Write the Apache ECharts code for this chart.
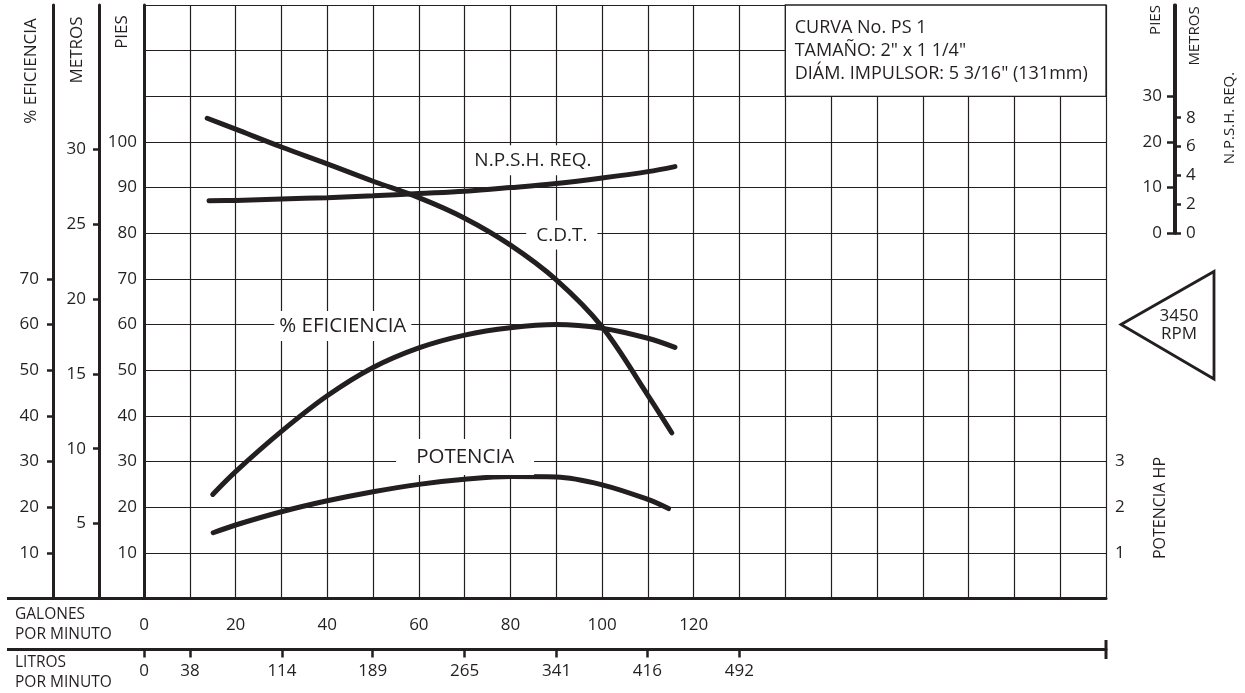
<!DOCTYPE html>
<html>
<head>
<meta charset="utf-8">
<script src="https://cdn.jsdelivr.net/npm/echarts@6/dist/echarts.min.js"></script>
<style>
html,body{margin:0;padding:0;background:#fff;}
#chart{width:1245px;height:693px;}
</style>
</head>
<body>
<div id="chart"></div>
<script>
// ---- Tick labels ----
const gpmTicks = [0, 20, 40, 60, 80, 100, 120];
const litrosTicks = [0, 38, 114, 189, 265, 341, 416, 492];
const piesTicks = [10, 20, 30, 40, 50, 60, 70, 80, 90, 100];
const eficTicks = [10, 20, 30, 40, 50, 60, 70];
const metrosTicks = [5, 10, 15, 20, 25, 30];
const hpTicks = [1, 2, 3];
const npshPiesTicks = [0, 10, 20, 30];
const npshMetrosTicks = [0, 2, 4, 6, 8];

// ---- Curves (x in gallons per minute) ----
const cdtGpm  = [13.8, 20, 30, 40, 50, 60, 70, 80, 90, 100, 110, 115.2];
const cdtPies = [105.2, 102.8, 98.9, 95.2, 91.4, 87.8, 83.3, 77.4, 69.8, 59.5, 44.5, 36.3];

const npshGpm  = [14.2, 20, 30, 40, 50, 60, 70, 80, 90, 100, 110, 115.9];
const npshPies = [7.1, 7.2, 7.5, 7.8, 8.2, 8.7, 9.2, 10.0, 10.9, 12.1, 13.5, 14.6];

const efGpm = [15, 20, 30, 40, 50, 60, 70, 80, 90, 100, 110, 115.9];
const efPct = [22.8, 27.8, 36.6, 44.4, 50.6, 54.9, 57.7, 59.3, 60.0, 59.2, 57.0, 55.0];

const hpGpm = [15.1, 20, 30, 40, 50, 60, 70, 80, 90, 100, 110, 114.5];
const hpVal = [1.44, 1.61, 1.90, 2.14, 2.34, 2.50, 2.61, 2.67, 2.66, 2.49, 2.17, 1.97];

const infoLines = ['CURVA No. PS 1', 'TAMAÑO: 2" x 1 1/4"', 'DIÁM. IMPULSOR: 5 3/16" (131mm)'];

const INK = '#231f20';
const FONT = '"Open Sans", "Noto Sans", sans-serif';
const FT_PER_M = 3.28084;
const L_PER_GAL = 3.78541;

function pairs(xs, ys) { return xs.map((x, i) => [x, ys[i]]); }

const lineStyle = { color: INK, width: 5, cap: 'round' };
function curveLabel(text, coord, pad, size) {
  return {
    symbol: 'circle', symbolSize: 1, silent: true,
    itemStyle: { color: 'transparent' },
    data: [{ coord: coord, value: text }],
    label: {
      show: true, position: 'inside', formatter: text,
      color: INK, fontFamily: FONT, fontSize: size,
      backgroundColor: '#fff', padding: pad
    }
  };
}

const axisText = { color: INK, fontFamily: FONT, fontSize: 17 };
const thick = { show: true, onZero: false, lineStyle: { color: INK, width: 3 } };
const SMOOTH = 0.35;

const chart = echarts.init(document.getElementById('chart'), null, { renderer: 'canvas' });
chart.setOption({
  animation: false,
  backgroundColor: '#fff',
  textStyle: { fontFamily: FONT, color: INK },
  grid: [
    { left: 144, top: 5, width: 962, height: 593.5, outerBoundsMode: 'none', containLabel: false },
    { left: 1174, top: 5, width: 1, height: 228.3, outerBoundsMode: 'none', containLabel: false }
  ],
  xAxis: [
    { type: 'value', gridIndex: 0, min: 0, max: 210, interval: 10, position: 'bottom',
      axisLine: thick, axisTick: { show: false },
      splitLine: { show: true, lineStyle: { color: INK, width: 1.2 } },
      axisLabel: Object.assign({ customValues: gpmTicks, margin: 18 }, axisText) },
    { type: 'value', gridIndex: 0, min: 0, max: 210 * L_PER_GAL, position: 'bottom', offset: 51,
      axisLine: thick,
      axisTick: { show: true, inside: false, length: 8, customValues: litrosTicks, lineStyle: { color: INK, width: 2.5 } },
      splitLine: { show: false },
      axisLabel: Object.assign({ customValues: litrosTicks, margin: 13 }, axisText) },
    { type: 'value', gridIndex: 1, min: 0, max: 1, show: false }
  ],
  yAxis: [
    // 0: PIES (main head scale)
    { type: 'value', gridIndex: 0, min: 0, max: 130, interval: 10, position: 'left', offset: 0,
      axisLine: thick, axisTick: { show: false },
      splitLine: { show: true, lineStyle: { color: INK, width: 1.2 } },
      axisLabel: Object.assign({ customValues: piesTicks, margin: 7 }, axisText) },
    // 1: % EFICIENCIA
    { type: 'value', gridIndex: 0, min: 0, max: 130, position: 'left', offset: 91,
      axisLine: thick, splitLine: { show: false },
      axisTick: { show: true, length: 6, customValues: eficTicks, lineStyle: { color: INK, width: 2.5 } },
      axisLabel: Object.assign({ customValues: eficTicks, margin: 14 }, axisText) },
    // 2: METROS
    { type: 'value', gridIndex: 0, min: 0, max: 130 / FT_PER_M, position: 'left', offset: 45,
      axisLine: thick, splitLine: { show: false },
      axisTick: { show: true, length: 6, customValues: metrosTicks, lineStyle: { color: INK, width: 2.5 } },
      axisLabel: Object.assign({ customValues: metrosTicks, margin: 13 }, axisText) },
    // 3: POTENCIA HP
    { type: 'value', gridIndex: 0, min: 0, max: 13, position: 'right', offset: 0,
      axisLine: { show: false, onZero: false }, axisTick: { show: false }, splitLine: { show: false },
      axisLabel: Object.assign({ customValues: hpTicks, margin: 9 }, axisText) },
    // 4: NPSH (hidden, shares main grid; NPSH 0 ft sits at 80 ft of main scale)
    { type: 'value', gridIndex: 0, min: -80, max: 50, show: false },
    // 5: NPSH PIES scale
    { type: 'value', gridIndex: 1, min: 0, max: 50, position: 'left',
      axisLine: thick, splitLine: { show: false },
      axisTick: { show: true, length: 7, customValues: npshPiesTicks, lineStyle: { color: INK, width: 2.5 } },
      axisLabel: Object.assign({ customValues: npshPiesTicks, margin: 12 }, axisText) },
    // 6: NPSH METROS scale
    { type: 'value', gridIndex: 1, min: 0, max: 15.8, position: 'right',
      axisLine: thick, splitLine: { show: false },
      axisTick: { show: true, length: 6, customValues: npshMetrosTicks, lineStyle: { color: INK, width: 2.5 } },
      axisLabel: Object.assign({ customValues: npshMetrosTicks, margin: 11 }, axisText) }
  ],
  series: [
    { name: 'C.D.T.', type: 'line', xAxisIndex: 0, yAxisIndex: 0, smooth: SMOOTH, showSymbol: false,
      data: pairs(cdtGpm, cdtPies), lineStyle: lineStyle,
      markPoint: curveLabel('C.D.T.', [91.2, 79.6], [6, 10, 4, 10], 19),
      markArea: {
        silent: true,
        itemStyle: { color: '#fff', borderColor: INK, borderWidth: 1.3, opacity: 1 },
        label: {
          show: true, position: 'insideLeft', distance: 10,
          formatter: infoLines.join('\n'),
          color: INK, fontFamily: FONT, fontSize: 18, lineHeight: 23, align: 'left'
        },
        data: [[{ coord: [140, 130] }, { coord: [210, 110] }]]
      } },
    { name: 'N.P.S.H. REQ.', type: 'line', xAxisIndex: 0, yAxisIndex: 4, smooth: SMOOTH, showSymbol: false,
      data: pairs(npshGpm, npshPies), lineStyle: lineStyle,
      markPoint: curveLabel('N.P.S.H. REQ.', [84.9, 16.0], [6, 6, 5, 6], 19) },
    { name: '% EFICIENCIA', type: 'line', xAxisIndex: 0, yAxisIndex: 1, smooth: SMOOTH, showSymbol: false,
      data: pairs(efGpm, efPct), lineStyle: lineStyle,
      markPoint: curveLabel('% EFICIENCIA', [43.4, 59.7], [5, 5, 4, 5], 20.5) },
    { name: 'POTENCIA', type: 'line', xAxisIndex: 0, yAxisIndex: 3, smooth: SMOOTH, showSymbol: false,
      data: pairs(hpGpm, hpVal), lineStyle: lineStyle,
      markPoint: curveLabel('POTENCIA', [70.1, 3.10], [8, 20, 7, 20], 20.5) }
  ],
  graphic: [
    // axis extensions to the left and end cap
    { type: 'line', shape: { x1: 7, y1: 598.5, x2: 145, y2: 598.5 }, style: { stroke: INK, lineWidth: 3 } },
    { type: 'line', shape: { x1: 7, y1: 649.5, x2: 145, y2: 649.5 }, style: { stroke: INK, lineWidth: 3 } },
    { type: 'line', shape: { x1: 1106, y1: 640, x2: 1106, y2: 659 }, style: { stroke: INK, lineWidth: 3 } },
    // rotated axis titles
    { type: 'text', x: 31, y: 71, rotation: Math.PI / 2, style: { text: '% EFICIENCIA', fill: INK, font: '17px ' + FONT, textAlign: 'center', textVerticalAlign: 'middle' } },
    { type: 'text', x: 77, y: 50, rotation: Math.PI / 2, style: { text: 'METROS', fill: INK, font: '17px ' + FONT, textAlign: 'center', textVerticalAlign: 'middle' } },
    { type: 'text', x: 122, y: 32, rotation: Math.PI / 2, style: { text: 'PIES', fill: INK, font: '17px ' + FONT, textAlign: 'center', textVerticalAlign: 'middle' } },
    { type: 'text', x: 1156, y: 20, rotation: Math.PI / 2, style: { text: 'PIES', fill: INK, font: '15px ' + FONT, textAlign: 'center', textVerticalAlign: 'middle' } },
    { type: 'text', x: 1195, y: 36, rotation: Math.PI / 2, style: { text: 'METROS', fill: INK, font: '15px ' + FONT, textAlign: 'center', textVerticalAlign: 'middle' } },
    { type: 'text', x: 1230, y: 118, rotation: Math.PI / 2, style: { text: 'N.P.S.H. REQ.', fill: INK, font: '15px ' + FONT, textAlign: 'center', textVerticalAlign: 'middle' } },
    { type: 'text', x: 1160, y: 508, rotation: Math.PI / 2, style: { text: 'POTENCIA HP', fill: INK, font: '16px ' + FONT, textAlign: 'center', textVerticalAlign: 'middle' } },
    // bottom axis titles
    { type: 'text', x: 15, y: 625, style: { text: 'GALONES\nPOR MINUTO', fill: INK, font: '15.5px ' + FONT, lineHeight: 20, textAlign: 'left', textVerticalAlign: 'middle' } },
    { type: 'text', x: 15, y: 673, style: { text: 'LITROS\nPOR MINUTO', fill: INK, font: '15.5px ' + FONT, lineHeight: 20, textAlign: 'left', textVerticalAlign: 'middle' } },
    // RPM marker
    { type: 'polygon', shape: { points: [[1121, 324.5], [1214, 271.5], [1214, 379]] }, style: { fill: '#fff', stroke: INK, lineWidth: 2.8 } },
    { type: 'text', x: 1179, y: 325, style: { text: '3450\nRPM', fill: INK, font: '17px ' + FONT, lineHeight: 18, textAlign: 'center', textVerticalAlign: 'middle' } }
  ]
});
</script>
</body>
</html>
